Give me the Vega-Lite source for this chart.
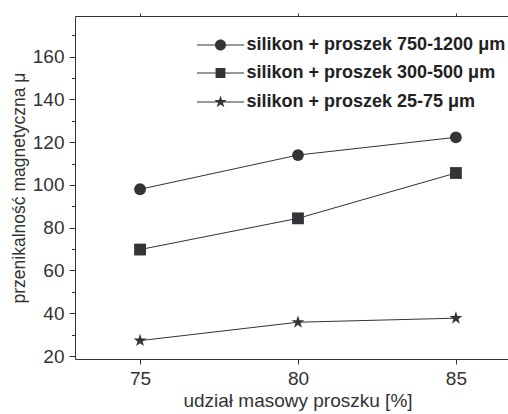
{
  "$schema": "https://vega.github.io/schema/vega-lite/v6.json",
  "width": 433,
  "height": 343,
  "autosize": "none",
  "padding": {"left": 75, "top": 16, "right": 0, "bottom": 55},
  "background": "white",
  "config": {
    "view": {"stroke": null},
    "font": "Liberation Sans",
    "axis": {
      "grid": false,
      "domainColor": "#333333",
      "tickColor": "#333333",
      "labelColor": "#333333",
      "titleColor": "#333333",
      "labelFont": "Liberation Sans",
      "titleFont": "Liberation Sans",
      "titleFontWeight": "normal"
    }
  },
  "data": {
    "values": [
      {"seria": "silikon + proszek 750-1200 μm", "udzial": 75, "mu": 98.0},
      {"seria": "silikon + proszek 750-1200 μm", "udzial": 80, "mu": 114.0},
      {"seria": "silikon + proszek 750-1200 μm", "udzial": 85, "mu": 122.3},
      {"seria": "silikon + proszek 300-500 μm", "udzial": 75, "mu": 69.8},
      {"seria": "silikon + proszek 300-500 μm", "udzial": 80, "mu": 84.4},
      {"seria": "silikon + proszek 300-500 μm", "udzial": 85, "mu": 105.6},
      {"seria": "silikon + proszek 25-75 μm", "udzial": 75, "mu": 27.2},
      {"seria": "silikon + proszek 25-75 μm", "udzial": 80, "mu": 35.8},
      {"seria": "silikon + proszek 25-75 μm", "udzial": 85, "mu": 37.7}
    ]
  },
  "layer": [
    {
      "mark": {"type": "line", "stroke": "#333333", "strokeWidth": 1},
      "encoding": {
        "detail": {"field": "seria", "type": "nominal"},
        "x": {
          "field": "udzial", "type": "quantitative",
          "scale": {"domain": [72.94, 86.65], "nice": false, "zero": false},
          "axis": {
            "orient": "bottom", "values": [75, 80, 85], "format": "d",
            "title": "udział masowy proszku [%]",
            "tickSize": 5, "labelPadding": 5, "labelFontSize": 19,
            "titleFontSize": 19, "titlePadding": 3, "titleX": 222.5
          }
        },
        "y": {
          "field": "mu", "type": "quantitative",
          "scale": {"domain": [18.6, 179.05], "nice": false, "zero": false},
          "axis": {
            "orient": "left", "values": [20, 40, 60, 80, 100, 120, 140, 160], "format": "d",
            "title": "przenikalność magnetyczna  μ",
            "tickSize": 6, "labelPadding": 5, "labelFontSize": 19,
            "titleFontSize": 17.5, "titlePadding": 4
          }
        }
      }
    },
    {
      "mark": {"type": "point", "filled": true, "size": 140, "color": "#333338", "opacity": 1},
      "encoding": {
        "x": {
          "field": "udzial", "type": "quantitative",
          "scale": {"domain": [72.94, 86.65], "nice": false, "zero": false},
          "axis": {"orient": "top", "values": [75, 80, 85], "labels": false, "title": null, "tickSize": 3}
        },
        "y": {
          "field": "mu", "type": "quantitative",
          "scale": {"domain": [18.6, 179.05], "nice": false, "zero": false},
          "axis": {"orient": "left", "values": [30, 50, 70, 90, 110, 130, 150, 170], "labels": false, "title": null, "domain": false, "tickSize": 3.5}
        },
        "shape": {
          "field": "seria", "type": "nominal",
          "scale": {
            "domain": ["silikon + proszek 750-1200 μm", "silikon + proszek 300-500 μm", "silikon + proszek 25-75 μm"],
            "range": ["circle", "square", "M0,-1.15L0.258,-0.355L1.094,-0.355L0.418,0.136L0.676,0.93L0,0.44L-0.676,0.93L-0.418,0.136L-1.094,-0.355L-0.258,-0.355Z"]
          },
          "legend": null
        }
      }
    },
    {
      "mark": {"type": "point", "filled": true, "size": 144, "color": "#333338", "opacity": 0},
      "encoding": {
        "x": {"field": "udzial", "type": "quantitative", "scale": {"domain": [72.94, 86.65], "nice": false, "zero": false}, "axis": null},
        "y": {"field": "mu", "type": "quantitative", "scale": {"domain": [18.6, 179.05], "nice": false, "zero": false}, "axis": null},
        "shape": {
          "field": "seria", "type": "nominal",
          "scale": {
            "domain": ["silikon + proszek 750-1200 μm", "silikon + proszek 300-500 μm", "silikon + proszek 25-75 μm"],
            "range": [
              "M-3.92,-0.085H3.92V0.085H-3.92ZM0.92,0C0.92,0.508,0.508,0.92,0,0.92C-0.508,0.92,-0.92,0.508,-0.92,0C-0.92,-0.508,-0.508,-0.92,0,-0.92C0.508,-0.92,0.92,-0.508,0.92,0Z",
              "M-3.92,-0.085H3.92V0.085H-3.92ZM-0.82,-0.82H0.82V0.82H-0.82Z",
              "M-3.92,-0.085H3.92V0.085H-3.92ZM0,-1.1L0.247,-0.34L1.046,-0.34L0.399,0.13L0.647,0.89L0,0.42L-0.647,0.89L-0.399,0.13L-1.046,-0.34L-0.247,-0.34Z"
            ]
          },
          "legend": {
            "orient": "none", "legendX": 136.5, "legendY": 20,
            "title": null, "padding": 0,
            "labelFontSize": 18, "labelFontWeight": "bold", "labelColor": "#222222",
            "labelFont": "Liberation Sans", "labelOffset": 17, "labelLimit": 400,
            "symbolSize": 144, "rowPadding": 10,
            "symbolFillColor": "#333338", "symbolOpacity": 1
          }
        }
      }
    }
  ],
  "resolve": {"axis": {"x": "independent", "y": "independent"}, "scale": {"shape": "independent"}}
}
